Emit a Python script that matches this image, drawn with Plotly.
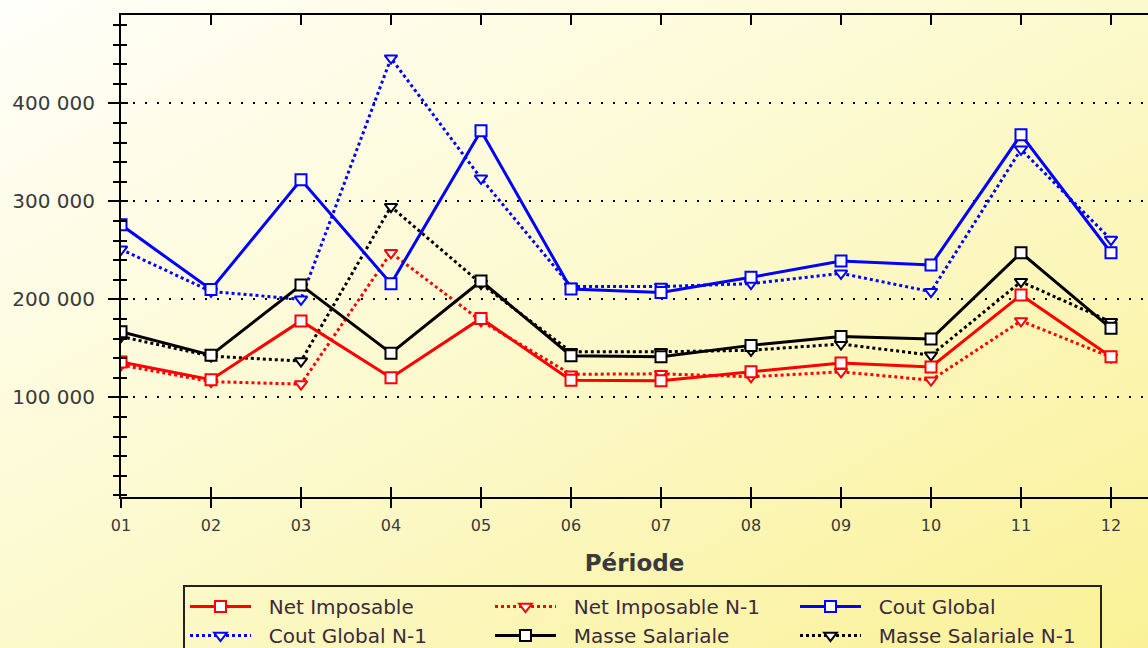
import base64
import plotly.graph_objects as go

periods = ["01", "02", "03", "04", "05", "06", "07", "08", "09", "10", "11", "12"]

net_imposable = [136000, 118000, 178000, 120000, 180500, 117500, 117000, 126000, 135000, 131000, 204500, 141500]
net_imposable_n1 = [133000, 116000, 113500, 247500, 178000, 123500, 124000, 121000, 126000, 117500, 178000, 141000]
cout_global = [276000, 210000, 322000, 216000, 372000, 210500, 207000, 222500, 239000, 235000, 368000, 247500]
cout_global_n1 = [251000, 208000, 200000, 446000, 323500, 213000, 213000, 216000, 226500, 207800, 353000, 261000]
masse_salariale = [167000, 143000, 214500, 145000, 218700, 142500, 141500, 153000, 162000, 159500, 247500, 170400]
masse_salariale_n1 = [162000, 142000, 137000, 294500, 216000, 146500, 146500, 148000, 154400, 143000, 218000, 177000]

y_tickvals = [100000, 200000, 300000, 400000]
y_ticktext = ["100 000", "200 000", "300 000", "400 000"]

FONT = "DejaVu Sans"
PAD = "\u00a0\u00a0"  # small gap between legend symbol and text

series = [
    # name, values, color, dash, symbol, legendrank
    ("Net Imposable N-1", net_imposable_n1, "#ff0000", "dot", "triangle-down", 2),
    ("Cout Global N-1", cout_global_n1, "#0000ff", "dot", "triangle-down", 4),
    ("Masse Salariale N-1", masse_salariale_n1, "#000000", "dot", "triangle-down", 6),
    ("Net Imposable", net_imposable, "#ff0000", "solid", "square", 1),
    ("Cout Global", cout_global, "#0000ff", "solid", "square", 3),
    ("Masse Salariale", masse_salariale, "#000000", "solid", "square", 5),
]

fig = go.Figure()
for name, vals, color, dash, symbol, rank in series:
    fig.add_trace(go.Scatter(
        x=periods, y=vals, name=PAD + name, mode="lines+markers",
        line=dict(color=color, width=3, dash=dash),
        marker=dict(symbol=symbol, size=11, color="white", line=dict(color=color, width=2)),
        legendrank=rank,
    ))

# helper trace for the overlay axes (inside ticks / top frame)
fig.add_trace(go.Scatter(x=[0], y=[0], xaxis="x2", yaxis="y2", mode="markers",
                         marker=dict(opacity=0), showlegend=False, hoverinfo="skip"))

L, R, T, B = 121, 0, 15, 151
W, H = 1148, 648
pw, ph = W - L - R, H - T - B
xr = [0, pw / 90.0]
yr = [-1700, 490100]

svg = ("<svg xmlns='http://www.w3.org/2000/svg' width='1148' height='648' preserveAspectRatio='none'>"
       "<defs><linearGradient id='g' x1='0' y1='0' x2='1' y2='1'>"
       "<stop offset='0' stop-color='#fffffa'/>"
       "<stop offset='0.5' stop-color='#fcf9cc'/>"
       "<stop offset='1' stop-color='#faf196'/>"
       "</linearGradient></defs><rect width='1148' height='648' fill='url(#g)'/></svg>")
bg_uri = "data:image/svg+xml;base64," + base64.b64encode(svg.encode()).decode()

fig.update_layout(
    width=W, height=H,
    margin=dict(l=L, r=R, t=T, b=B, pad=0, autoexpand=False),
    paper_bgcolor="#fcf9cc",
    plot_bgcolor="rgba(0,0,0,0)",
    font=dict(family=FONT, color="#3a3a3a"),
    images=[dict(source=bg_uri, xref="paper", yref="paper",
                 x=-L / pw, y=1 + T / ph, sizex=W / pw, sizey=H / ph,
                 xanchor="left", yanchor="top", sizing="stretch", layer="below")],
    xaxis=dict(
        type="category", range=xr, showgrid=False, zeroline=False, automargin=False,
        showline=True, linecolor="black", linewidth=2,
        ticks="outside", ticklen=9, tickwidth=2, tickcolor="black",
        tickfont=dict(family=FONT, size=16, color="#3a3a3a"),
        ticklabelstandoff=4,
        title=dict(text="<b>Période</b>", font=dict(family=FONT, size=23, color="#3a3a3a"), standoff=21),
    ),
    yaxis=dict(
        range=yr, tickmode="array", tickvals=y_tickvals, ticktext=y_ticktext, automargin=False,
        showgrid=True, gridcolor="black", gridwidth=2, griddash="2px,10px",
        zeroline=False, showline=True, linecolor="black", linewidth=2,
        ticks="outside", ticklen=11, tickwidth=2, tickcolor="black",
        tickfont=dict(family=FONT, size=20, color="#3a3a3a"),
        ticklabelstandoff=9,
        minor=dict(tickmode="linear", tick0=0, dtick=20000, ticks="outside",
                   ticklen=6, tickwidth=2, tickcolor="black", showgrid=False),
    ),
    xaxis2=dict(
        overlaying="x", side="top", range=xr, tickmode="linear", tick0=0, dtick=1,
        showgrid=False, zeroline=False, showline=True, linecolor="black", linewidth=2,
        mirror="ticks", ticks="inside", ticklen=10, tickwidth=2, tickcolor="black",
        showticklabels=False, automargin=False,
    ),
    yaxis2=dict(
        overlaying="y", side="left", range=yr, tickmode="array", tickvals=y_tickvals,
        showgrid=False, zeroline=False, showline=False, automargin=False,
        ticks="inside", ticklen=7, tickwidth=2, tickcolor="black", showticklabels=False,
        minor=dict(tickmode="linear", tick0=0, dtick=20000, ticks="inside",
                   ticklen=6, tickwidth=2, tickcolor="black", showgrid=False),
    ),
    legend=dict(
        orientation="h", x=(183 - L) / pw, y=(H - B - 585) / ph,
        xanchor="left", yanchor="top",
        bgcolor="rgba(0,0,0,0)", bordercolor="#222222", borderwidth=2,
        font=dict(family=FONT, size=20, color="#3b2a3b"),
        entrywidth=229, entrywidthmode="pixels", itemwidth=61,
        traceorder="normal",
    ),
    showlegend=True,
)

fig.write_html("out.html", config={"displayModeBar": False},
               post_script="document.body.style.margin='0';document.body.style.overflow='hidden';")
